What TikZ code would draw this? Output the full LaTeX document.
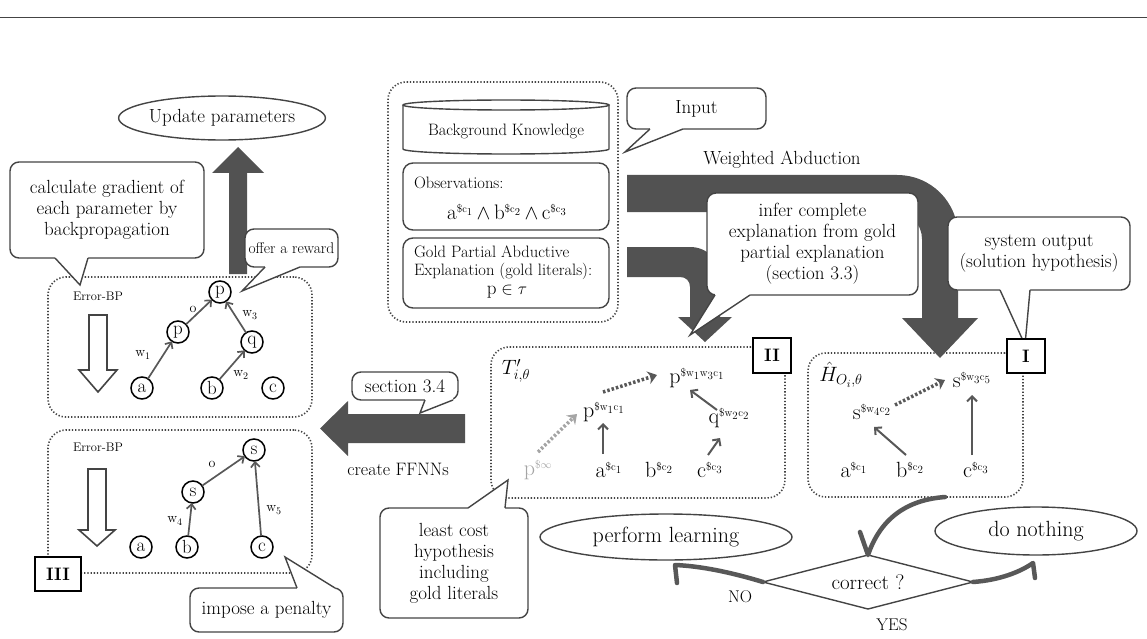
\documentclass[tikz,border=0pt]{standalone}
\usepackage{fontspec}
\usetikzlibrary{arrows.meta,shapes.geometric,calc}
\definecolor{inkgray}{RGB}{68,68,68}
\definecolor{bandgray}{RGB}{82,82,82}
\definecolor{linegray}{RGB}{88,88,88}
\definecolor{fadegray}{RGB}{165,165,165}

% speech-bubble pointer: base point, tip, base point, inward offset
\newcommand\talkpointer[4]{%
  \fill[white] ($#1+(0,#4)$) -- #1 -- #2 -- #3 -- ($#3+(0,#4)$) -- cycle;
  \draw[talkline] #1 -- #2 -- #3;}
% literal with a small cost superscript
\newcommand\litcost[2]{$\mathrm{#1}^{\scriptscriptstyle\$\mathrm{#2}}$}

\begin{document}
\begin{tikzpicture}[x=1pt,y=-1pt,
  font=\fontsize{19}{21}\selectfont,
  every node/.style={inner sep=0pt, outer sep=0pt},
  talk/.style={draw=inkgray, line width=1.4pt, fill=white, rounded corners=9pt, align=center},
  talkline/.style={draw=inkgray, line width=1.4pt, line join=miter},
  dotbox/.style={draw=inkgray, line width=1.6pt, dash pattern=on 1.3pt off 1.9pt, rounded corners=18pt},
  tagbox/.style={draw=black, line width=2pt, fill=white, font=\fontsize{18}{20}\selectfont\bfseries},
  oval/.style={ellipse, draw=inkgray, line width=1.4pt, fill=white},
  unit/.style={circle, draw=black, line width=1.5pt, minimum size=22pt, font=\fontsize{19}{19}\selectfont},
  wlab/.style={font=\fontsize{14}{14}\selectfont},
  netarrow/.style={draw=linegray, line width=1.7pt, -{Straight Barb[length=5pt,width=9pt]}},
  lit/.style={font=\fontsize{22}{22}\selectfont},
  solidarrow/.style={draw=linegray, line width=2pt, -{Straight Barb[length=5pt,width=10pt]}},
  dotarrow/.style={draw=linegray, line width=3.5pt, dash pattern=on 2.5pt off 2pt, -{Stealth[length=9pt,width=13pt,inset=3pt]}},
  band/.style={fill=bandgray},
  flow/.style={draw=linegray, line width=4.5pt, line cap=round, line join=round},
  hollow/.style={draw=inkgray, line width=1.6pt, fill=white, line join=miter},
  smalltxt/.style={font=\fontsize{16.5}{19}\selectfont},
  tinytxt/.style={font=\fontsize{12.5}{14}\selectfont},
  bigtxt/.style={font=\fontsize{22}{22}\selectfont},
]
\useasboundingbox (0,0) rectangle (1147,639);

% rule across the top
\draw[inkgray, line width=0.9pt] (0,17) -- (1147,17);

% dotted frames
\node[dotbox, minimum width=264pt, minimum height=140pt] (netA) at (180,347) {};
\node[dotbox, minimum width=264pt, minimum height=143pt] (netB) at (180,501.5) {};
\node[dotbox, minimum width=230pt, minimum height=240pt] (inbox) at (503,202) {};
\node[dotbox, minimum width=294pt, minimum height=151pt] (tbox) at (638,422.5) {};
\node[dotbox, minimum width=215pt, minimum height=144pt] (hbox) at (915.5,425) {};

% heavy arrows
\fill[band] (229,274) -- (229,173) -- (212,173) -- (238,147) -- (264,173) -- (247,173) -- (247,274) -- cycle;
\fill[band] (465,414) -- (348,414) -- (348,401) -- (320,428.5) -- (348,456) -- (348,443) -- (465,443) -- cycle;
\fill[band] (627,175) -- (897,175) .. controls (931,175) and (958,202) .. (958,236)
  -- (958,318) -- (978,318) -- (940,358) -- (902,318) -- (922,318) -- (922,239)
  .. controls (922,224) and (910,212) .. (895,212) -- (627,212) -- cycle;
\fill[band] (627,247) -- (690,247) .. controls (707,247) and (720,260) .. (720,277)
  -- (720,317) -- (732,317) -- (705,342) -- (678,317) -- (690,317) -- (690,287)
  .. controls (690,281) and (686,277) .. (680,277) -- (627,277) -- cycle;

% input frame contents
\filldraw[fill=white, draw=inkgray, line width=1.4pt] (403,105) -- (403,149)
  arc[start angle=180, end angle=360, x radius=103pt, y radius=5pt] -- (609,105);
\filldraw[fill=white, draw=inkgray, line width=1.4pt] (506,105) ellipse[x radius=103pt, y radius=5pt];
\node[smalltxt] (bk) at (506,131) {Background Knowledge};
\node[draw=inkgray, line width=1.4pt, rounded corners=10pt, minimum width=206pt, minimum height=67pt] (obsbox) at (506,196.5) {};
\node[smalltxt, anchor=west] (obs) at (414,183) {Observations:};
\node[font=\fontsize{21}{21}\selectfont] (obsf) at (507,212) {\litcost{a}{c_1}\,$\wedge$\,\litcost{b}{c_2}\,$\wedge$\,\litcost{c}{c_3}};
\node[draw=inkgray, line width=1.4pt, rounded corners=10pt, minimum width=206pt, minimum height=70pt] (goldbox) at (506,273) {};
\node[smalltxt, anchor=west] (gold1) at (414,252) {Gold Partial Abductive};
\node[smalltxt, anchor=west] (gold2) at (414,271) {Explanation (gold literals):};
\node (goldf) at (507,292) {$\mathrm{p}\in\tau$};

% update oval
\node[oval, minimum width=193pt, minimum height=44pt] (upd) at (222,118) {Update parameters};

% first network
\node[tinytxt] (ebpA) at (98,296) {Error-BP};
\draw[hollow] (89,315) -- (107,315) -- (107,370) -- (117,370) -- (98,392) -- (79,370) -- (89,370) -- cycle;
\node[unit] (pA1) at (220,292) {p};
\node[unit] (pA2) at (178,332) {p};
\node[unit] (qA) at (252,342) {q};
\node[unit] (aA) at (142,388) {a};
\node[unit] (bA) at (212,388) {b};
\node[unit] (cA) at (273,388) {c};
\draw[netarrow] (aA) -- (pA2);
\draw[netarrow] (pA2) -- (pA1);
\draw[netarrow] (qA) -- (pA1);
\draw[netarrow] (bA) -- (qA);
\node[wlab] (w1) at (143,355) {$\mathrm{w}_1$};
\node[wlab] (oA) at (193,309) {o};
\node[wlab] (w3) at (250,315) {$\mathrm{w}_3$};
\node[wlab] (w2) at (241,375) {$\mathrm{w}_2$};

% second network
\node[tinytxt] (ebpB) at (98,447) {Error-BP};
\draw[hollow] (88,469) -- (106,469) -- (106,530) -- (115,530) -- (97,546) -- (79,530) -- (88,530) -- cycle;
\node[unit] (sB1) at (254,450) {s};
\node[unit] (sB2) at (193,492) {s};
\node[unit] (aB) at (141,547) {a};
\node[unit] (bB) at (187,547) {b};
\node[unit] (cB) at (262,547) {c};
\draw[netarrow] (bB) -- (sB2);
\draw[netarrow] (sB2) -- (sB1);
\draw[netarrow] (cB) -- (sB1);
\node[wlab] (w4) at (175,521) {$\mathrm{w}_4$};
\node[wlab] (oB) at (212,464) {o};
\node[wlab] (w5) at (274,510) {$\mathrm{w}_5$};

\node[font=\fontsize{18}{18}\selectfont] (ffnn) at (398,469) {create FFNNs};

% explanation graph T'
\node[lit] (tlab) at (516,371) {$T'_{i,\theta}$};
\node[lit] (pTop) at (697,378) {\litcost{p}{w_1w_3c_1}};
\node[lit] (pMid) at (604,412) {\litcost{p}{w_1c_1}};
\node[lit] (qT) at (729,418) {\litcost{q}{w_2c_2}};
\node[lit, text=fadegray] (pInf) at (538,470) {$\mathrm{p}^{\scriptscriptstyle\$\infty}$};
\node[lit] (aT) at (609,470) {\litcost{a}{c_1}};
\node[lit] (bT) at (659,470) {\litcost{b}{c_2}};
\node[lit] (cT) at (710,470) {\litcost{c}{c_3}};
\draw[dotarrow, draw=fadegray] ($(pInf)+(0,-18)$) -- ($(pMid)+(-27,2)$);
\draw[dotarrow] ($(pMid)+(-1,-20)$) -- ($(pTop)+(-40,-3)$);
\draw[solidarrow] ($(aT)+(-6,-16)$) -- ($(pMid)+(-1,11)$);
\draw[solidarrow] ($(cT)+(-2,-15)$) -- ($(qT)+(-9,20)$);
\draw[solidarrow] ($(qT)+(-12,-8)$) -- ($(pTop)+(-7,12)$);

% solution hypothesis H
\node[lit] (hlab) at (841,375) {$\hat{H}_{O_i,\theta}$};
\node[lit] (sTop) at (972,380) {\litcost{s}{w_3c_5}};
\node[lit] (sMid) at (872,412) {\litcost{s}{w_4c_2}};
\node[lit] (aH) at (854,470) {\litcost{a}{c_1}};
\node[lit] (bH) at (910,470) {\litcost{b}{c_2}};
\node[lit] (cH) at (976,470) {\litcost{c}{c_3}};
\draw[dotarrow] ($(sMid)+(23,-7)$) -- ($(sTop)+(-27,0)$);
\draw[solidarrow] ($(bH)+(-4,-15)$) -- ($(sMid)+(2,15)$);
\draw[solidarrow] ($(cH)+(-4,-15)$) -- ($(sTop)+(0,15)$);

\node (wa) at (782,160) {Weighted Abduction};

% speech bubbles
\node[talk, minimum width=194pt, minimum height=96pt] (grad) at (107,210) {calculate gradient of\\each parameter by\\backpropagation};
\talkpointer{(55,258)}{(80,285)}{(88,258)}{-4}
\node[talk, minimum width=93pt, minimum height=38pt, font=\fontsize{15.5}{18}\selectfont] (reward) at (291.5,248) {offer a reward};
\talkpointer{(265,267)}{(242,291)}{(300,267)}{-4}
\node[talk, minimum width=153pt, minimum height=44pt] (penalty) at (266.5,610) {impose a penalty};
\talkpointer{(297,588)}{(285,557)}{(335,588)}{4}
\node[talk, minimum width=139pt, minimum height=41pt] (input) at (696.5,108.5) {Input};
\talkpointer{(650,129)}{(625,152)}{(683,129)}{-4}
\node[talk, minimum width=106pt, minimum height=28pt] (sec) at (405,386) {section 3.4};
\talkpointer{(425,400)}{(420,413)}{(453,400)}{-4}
\node[talk, minimum width=211pt, minimum height=102pt] (infer) at (812.5,244) {infer complete\\explanation from gold\\partial explanation\\(section 3.3)};
\talkpointer{(715,295)}{(690,335)}{(750,295)}{-4}
\node[talk, minimum width=182pt, minimum height=73pt] (sysout) at (1039,253.5) {system output\\(solution hypothesis)};
\talkpointer{(1000,290)}{(1025,345)}{(1030,290)}{-4}
\node[talk, minimum width=148pt, minimum height=110pt] (least) at (454,563) {least cost\\hypothesis\\including\\gold literals};
\talkpointer{(468,508)}{(508,480)}{(505,508)}{4}

% frame tags
\node[tagbox, minimum width=46pt, minimum height=34pt] (tagIII) at (58,574) {III};
\node[tagbox, minimum width=38pt, minimum height=35pt] (tagII) at (772,355) {II};
\node[tagbox, minimum width=38pt, minimum height=34pt] (tagI) at (1026,356) {I};

% decision
\node[oval, minimum width=252pt, minimum height=46pt, bigtxt] (learn) at (666,537) {perform learning};
\node[oval, minimum width=202pt, minimum height=48pt, bigtxt] (nothing) at (1036,531) {do nothing};
\node[diamond, draw=inkgray, line width=1.4pt, fill=white, minimum width=210pt, minimum height=54pt, aspect=3.9, font=\fontsize{21}{21}\selectfont] (check) at (868,582) {correct ?};
\draw[flow] ($(hbox.south)+(29.5,0)$) .. controls (905,500) and (880,520) .. (check.north) -- (860,532);
\draw[flow] (check.west) .. controls (730,572) and (700,566) .. ($(learn.south)+(9,5)$) -- ($(learn.south)+(11,23)$);
\draw[flow] (check.east) .. controls (1000,580) and (1020,572) .. ($(nothing.south)+(-3,8)$) -- ($(nothing.south)+(-1,23)$);
\node[font=\fontsize{17}{17}\selectfont] (no) at (740,597) {NO};
\node[font=\fontsize{17}{17}\selectfont] (yes) at (892,625) {YES};
\end{tikzpicture}
\end{document}
